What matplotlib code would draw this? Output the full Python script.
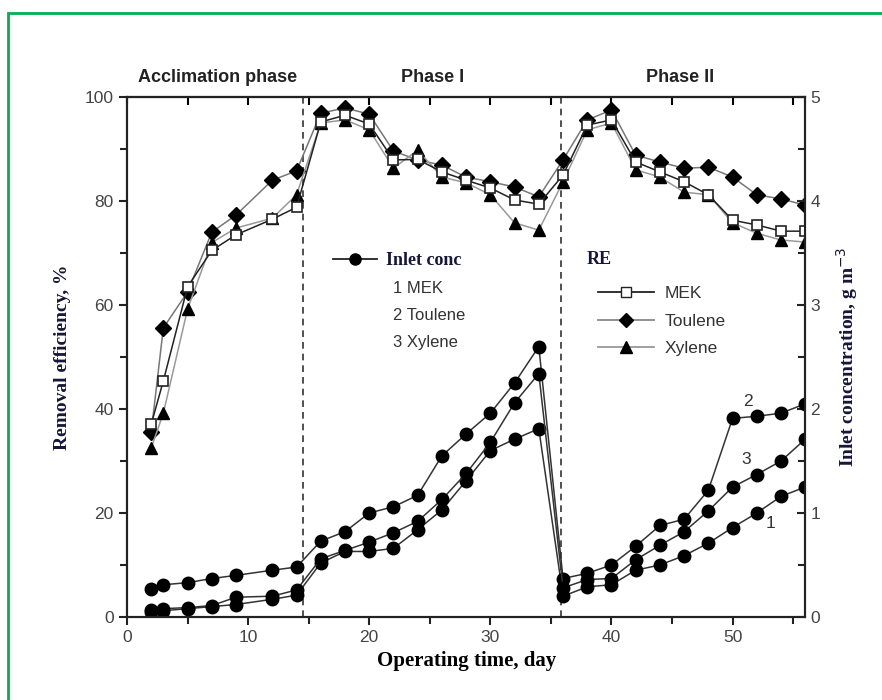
import matplotlib
matplotlib.use('Agg')
import matplotlib.pyplot as plt
from matplotlib.lines import Line2D
from matplotlib.patches import Rectangle
from matplotlib.transforms import blended_transform_factory

# operating days of each sample
days = [2, 3, 5, 7, 9, 12, 14] + list(range(16, 57, 2))

# removal efficiency, %
re_mek = [37.1, 45.4, 63.5, 70.5, 73.5, 76.5, 78.8, 95.2, 96.5, 94.8, 87.9, 88.0, 85.6, 84.0,
          82.5, 80.2, 79.4, 85.0, 94.6, 95.6, 87.5, 85.6, 83.7, 81.2, 76.3, 75.4, 74.2, 74.2]
re_tol = [35.6, 55.6, 62.5, 74.0, 77.3, 84.0, 85.8, 96.9, 97.9, 96.7, 89.6, 87.9, 86.9, 84.6,
          83.7, 82.7, 80.8, 87.9, 95.6, 97.5, 88.8, 87.5, 86.3, 86.5, 84.6, 81.2, 80.4, 79.2]
re_xyl = [32.5, 39.2, 59.2, 72.0, 74.8, 76.7, 81.2, 95.0, 95.6, 93.7, 86.3, 89.8, 84.6, 83.5,
          81.2, 75.8, 74.4, 83.7, 93.7, 95.0, 86.0, 84.6, 81.7, 81.2, 75.8, 73.8, 72.5, 72.1]

# inlet concentration, g m-3
c_mek = [0.05, 0.06, 0.08, 0.10, 0.12, 0.17, 0.21,
         0.52, 0.63, 0.63, 0.66, 0.84, 1.03, 1.31, 1.60, 1.71, 1.81,
         0.20, 0.29, 0.31, 0.45, 0.50, 0.59, 0.71, 0.86, 1.00, 1.16, 1.25]
c_tol = [0.27, 0.31, 0.33, 0.37, 0.40, 0.45, 0.48,
         0.73, 0.82, 1.00, 1.06, 1.17, 1.55, 1.76, 1.96, 2.25, 2.60,
         0.37, 0.42, 0.50, 0.68, 0.88, 0.94, 1.22, 1.91, 1.93, 1.96, 2.05]
c_xyl = [0.07, 0.08, 0.09, 0.11, 0.19, 0.20, 0.26,
         0.56, 0.64, 0.72, 0.81, 0.92, 1.13, 1.38, 1.68, 2.06, 2.34,
         0.28, 0.36, 0.37, 0.55, 0.69, 0.82, 1.02, 1.25, 1.37, 1.50, 1.71]

phase_bounds = [14.5, 35.8]
phase_names = ['Acclimation phase', 'Phase I', 'Phase II']
phase_pos = [7.5, 25.2, 45.7]

serif = 'Liberation Serif'
sans = 'Liberation Sans'
navy = '#16163a'
tickc = '#444444'

fig = plt.figure(figsize=(8.82, 7), dpi=100)
ax = fig.add_axes([0.144, 0.1186, 0.769, 0.7428])
ax2 = ax.twinx()

# RE curves
ax.plot(days, re_mek, color='#222222', lw=1.1, marker='s', ms=7.5, mfc='white',
        mec='#222222', mew=1.2, label='MEK', zorder=4)
ax.plot(days, re_tol, color='#777777', lw=1.1, marker='D', ms=8, mfc='black',
        mec='black', label='Toulene', zorder=3)
ax.plot(days, re_xyl, color='#999999', lw=1.1, marker='^', ms=9, mfc='black',
        mec='black', label='Xylene', zorder=3)

# inlet concentration curves
for c in [c_mek, c_tol, c_xyl]:
    ax2.plot(days, c, color='#333333', lw=1.1, marker='o', ms=9, mfc='black', mec='black')

for b in phase_bounds:
    ax.axvline(b, color='#333333', lw=1.2, ls=(0, (4, 3)), zorder=1)

ax.set_xlim(0, 56)
ax.set_ylim(0, 100)
ax2.set_ylim(0, 5)
ax.set_xticks(range(0, 51, 10))
ax.set_xticks(range(5, 56, 10), minor=True)
ax.set_yticks(range(0, 101, 20))
ax.set_yticks(range(10, 100, 20), minor=True)
ax2.set_yticks(range(0, 6))
ax2.set_yticks([0.5, 1.5, 2.5, 3.5, 4.5], minor=True)

for a in (ax, ax2):
    for s in a.spines.values():
        s.set_linewidth(1.5)
        s.set_color('#222222')
ax.tick_params(which='both', direction='out', width=1.5, labelsize=12.5, labelcolor=tickc,
               colors='#222222')
ax.tick_params(which='major', length=6)
ax.tick_params(which='minor', length=5)
ax.tick_params(axis='both', labelcolor=tickc)
ax2.tick_params(which='both', direction='in', width=1.5, labelsize=12.5, colors='#222222',
                labelcolor=tickc)
ax2.tick_params(which='major', length=6)
ax2.tick_params(which='minor', length=5)
for lab in ax.get_xticklabels() + ax.get_yticklabels() + ax2.get_yticklabels():
    lab.set_family(sans)

top = ax.secondary_xaxis('top')
top.set_xticks(range(0, 51, 10))
top.set_xticks(range(5, 56, 10), minor=True)
top.tick_params(which='both', direction='in', width=1.5, length=6, labeltop=False)
top.spines['top'].set_linewidth(1.5)

ax.set_xlabel('Operating time, day', family=serif, weight='bold', fontsize=15, labelpad=4)
ax.set_ylabel('Removal efficiency, %', family=serif, weight='bold', fontsize=14,
              color=navy, labelpad=10)
ax2.set_ylabel('Inlet concentration, g m$^{-3}$', family=serif, weight='bold', fontsize=14,
               color=navy, labelpad=10)

trans = blended_transform_factory(ax.transData, ax.transAxes)
for name, xp in zip(phase_names, phase_pos):
    ax.text(xp, 1.037, name, transform=trans, ha='center', va='center', family=sans,
            weight='bold', fontsize=13, color='#222222')

# curve numbers
for lab, xp, yp in [('2', 51.3, 2.07), ('3', 51.1, 1.51), ('1', 53.1, 0.90)]:
    ax2.text(xp, yp, lab, ha='center', va='center', family=sans, fontsize=12.5, color='#333333')

# legend: inlet concentration
h_in = Line2D([], [], color='#222222', lw=1.3, marker='o', ms=8, mfc='black', mec='black')
leg1 = ax2.legend([h_in], ['Inlet conc'], loc='center left', bbox_to_anchor=(0.28, 0.685),
                  frameon=False, handlelength=2.4, handletextpad=0.5,
                  prop={'family': serif, 'weight': 'bold', 'size': 13})
for t in leg1.get_texts():
    t.set_color(navy)
ax2.add_artist(leg1)
for i, name in enumerate(['1 MEK', '2 Toulene', '3 Xylene']):
    ax.text(0.392, 0.632 - i * 0.052, name, transform=ax.transAxes, ha='left', va='center',
            family=sans, fontsize=12, color='#333333')

# legend: RE
ax.text(0.677, 0.687, 'RE', transform=ax.transAxes, ha='left', va='center', family=serif,
        weight='bold', fontsize=13, color=navy)
h_re = [Line2D([], [], color='#222222', lw=1.3, marker='s', ms=6.5, mfc='white', mec='#222222'),
        Line2D([], [], color='#888888', lw=1.3, marker='D', ms=7, mfc='black', mec='black'),
        Line2D([], [], color='#999999', lw=1.3, marker='^', ms=8, mfc='black', mec='black')]
leg2 = ax2.legend(h_re, ['MEK', 'Toulene', 'Xylene'], loc='upper left',
                  bbox_to_anchor=(0.672, 0.667), frameon=False, handlelength=3.2,
                  handletextpad=0.6, labelspacing=0.72,
                  prop={'family': sans, 'size': 12.5})
for t in leg2.get_texts():
    t.set_color('#333333')

# green frame round the picture
fig.add_artist(Rectangle((8 / 882, -0.1), 1.2, 1.1 - 13 / 700, transform=fig.transFigure,
                         fill=False, edgecolor='#00b050', lw=2, clip_on=False))

fig.savefig('out.png', dpi=100)
